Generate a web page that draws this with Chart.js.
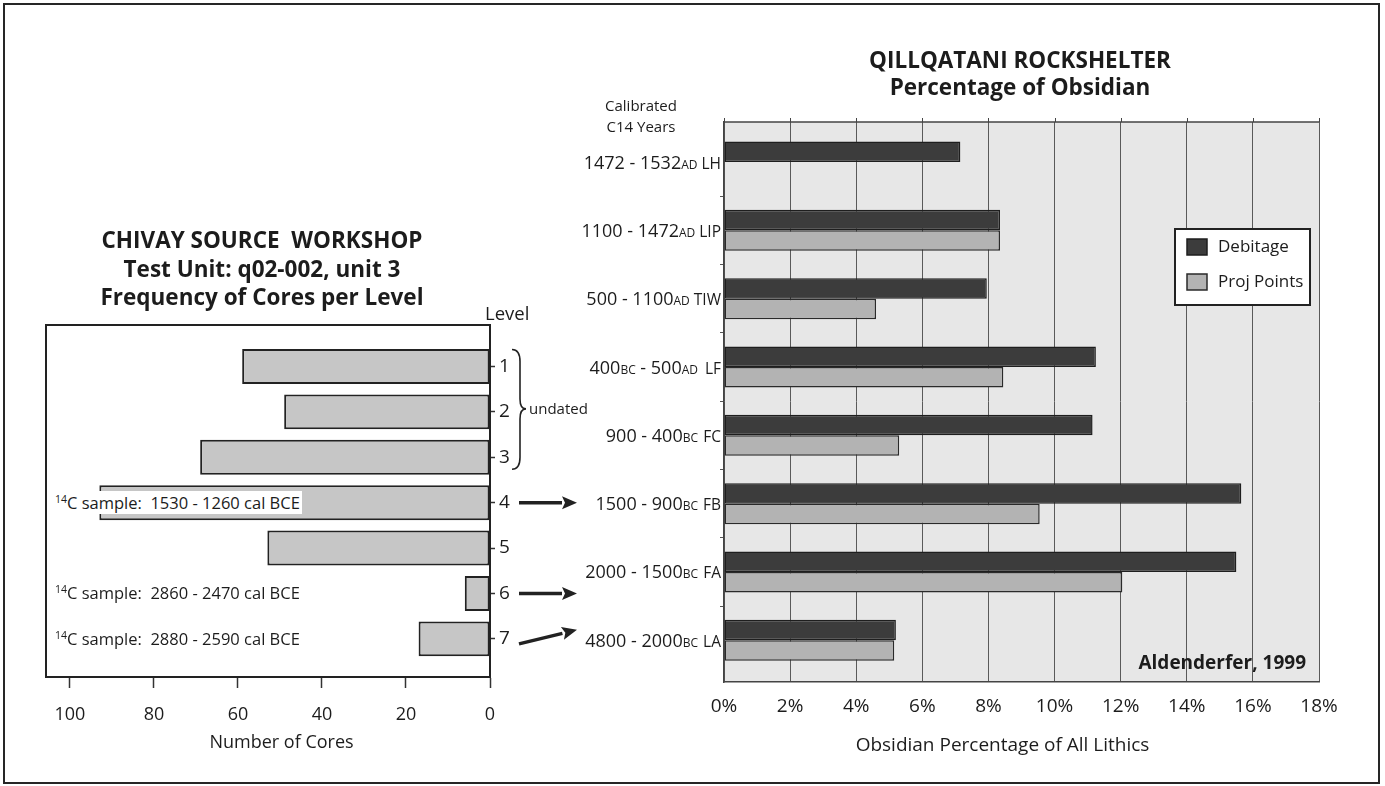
<!DOCTYPE html>
<html><head><meta charset="utf-8">
<title>Chivay Source Workshop / Qillqatani Rockshelter</title>
<script src="https://cdn.jsdelivr.net/npm/chart.js@4.4.1/dist/chart.umd.min.js"></script>
<style>
html,body{margin:0;padding:0;background:#fff;}
#page{position:relative;width:1385px;height:786px;overflow:hidden;font-family:"Open Sans",sans-serif;color:#1c1c1c;background:#fff;}
#frame{position:absolute;left:3px;top:3px;width:1373px;height:777px;border:2px solid #262626;}
canvas{position:absolute;left:0;top:0;}
.t{position:absolute;white-space:nowrap;z-index:5;}
.c{transform:translateX(-50%);text-align:center;}
.h{font-weight:700;font-size:22.5px;line-height:28.5px;}
.note{font-size:16.5px;line-height:22px;}
.note sup{font-size:10.5px;vertical-align:0;position:relative;top:-6px;}
.hl{background:#fff;padding-right:2px;}
</style></head>
<body><div id="page">
<div id="frame"></div>
<canvas id="cores" width="1385" height="786"></canvas>
<canvas id="obsidian" width="1385" height="786"></canvas>

<div class="t c h" style="left:262px;top:226px;">CHIVAY SOURCE&nbsp; WORKSHOP<br>Test Unit: q02-002, unit 3<br>Frequency of Cores per Level</div>
<div class="t c h" style="left:1020px;top:46px;line-height:27px;">QILLQATANI ROCKSHELTER<br>Percentage of Obsidian</div>
<div class="t c" style="left:641px;top:95px;font-size:15px;line-height:21px;">Calibrated<br>C14 Years</div>
<div class="t" style="left:485px;top:301px;font-size:18.5px;line-height:24px;">Level</div>
<div class="t" style="left:529px;top:397px;font-size:15px;line-height:22px;">undated</div>
<div class="t note" style="left:55px;top:492px;"><span class="hl"><sup>14</sup>C sample:&nbsp; 1530 - 1260 cal BCE</span></div>
<div class="t note" style="left:55px;top:582px;"><sup>14</sup>C sample:&nbsp; 2860 - 2470 cal BCE</div>
<div class="t note" style="left:55px;top:628px;"><sup>14</sup>C sample:&nbsp; 2880 - 2590 cal BCE</div>
<div class="t" style="right:79px;top:650px;font-size:19px;line-height:24px;font-weight:700;">Aldenderfer, 1999</div>
</div>
<script>
// ---- data: Chivay cores per level ----
const levels = [1, 2, 3, 4, 5, 6, 7];
const coresPerLevel = [59, 49, 69, 93, 53, 6, 17];
const coreTicks = [0, 20, 40, 60, 80, 100];
const arrowLevels = [4, 6, 7];

// ---- data: Qillqatani obsidian percentages ----
const periodYears = ['1472 - 1532AD', '1100 - 1472AD', '500 - 1100AD', '400BC - 500AD', '900 - 400BC', '1500 - 900BC', '2000 - 1500BC', '4800 - 2000BC'];
const periodCodes = ['LH', 'LIP', 'TIW', 'LF', 'FC', 'FB', 'FA', 'LA'];
const seriesNames = ['Debitage', 'Proj Points'];
const debitagePct = [7.15, 8.35, 7.95, 11.25, 11.15, 15.65, 15.5, 5.2];
const projPointsPct = [null, 8.35, 4.6, 8.45, 5.3, 9.55, 12.05, 5.15];
const pctTicks = [0, 2, 4, 6, 8, 10, 12, 14, 16, 18];

Chart.defaults.font.family = '"Open Sans", sans-serif';
Chart.defaults.color = '#1c1c1c';
const INK = '#222';
const FONT = '"Open Sans", sans-serif';

function drawArrow(ctx, x1, y1, x2, y2) {
  const ang = Math.atan2(y2 - y1, x2 - x1);
  const hl = 15, hw = 6.5;
  const bx = x2 - hl * Math.cos(ang), by = y2 - hl * Math.sin(ang);
  ctx.lineWidth = 3.5;
  ctx.beginPath(); ctx.moveTo(x1, y1); ctx.lineTo(bx, by); ctx.stroke();
  ctx.beginPath();
  ctx.moveTo(x2, y2);
  ctx.lineTo(bx + hw * Math.sin(ang), by - hw * Math.cos(ang));
  ctx.lineTo(bx + 3 * Math.cos(ang), by + 3 * Math.sin(ang));
  ctx.lineTo(bx - hw * Math.sin(ang), by + hw * Math.cos(ang));
  ctx.closePath(); ctx.fill();
}

const coresDecor = {
  id: 'coresDecor',
  afterDraw(chart) {
    const { ctx, chartArea: a, scales: { y } } = chart;
    ctx.save();
    ctx.strokeStyle = INK; ctx.fillStyle = INK; ctx.lineWidth = 2;
    ctx.strokeRect(a.left, a.top, a.right - a.left, a.bottom - a.top);
    // brace for undated levels 1-3
    const top = y.getPixelForValue(1) - 17, mid = y.getPixelForValue(2) - 3, bot = y.getPixelForValue(3) + 12;
    const x0 = a.right + 22, x1 = a.right + 30, x2 = a.right + 36;
    ctx.lineWidth = 1.6;
    ctx.beginPath();
    ctx.moveTo(x0, top);
    ctx.quadraticCurveTo(x1, top, x1, top + 12);
    ctx.lineTo(x1, mid - 10);
    ctx.quadraticCurveTo(x1, mid, x2, mid);
    ctx.quadraticCurveTo(x1, mid, x1, mid + 10);
    ctx.lineTo(x1, bot - 12);
    ctx.quadraticCurveTo(x1, bot, x0, bot);
    ctx.stroke();
    // arrows to the rockshelter chart
    arrowLevels.forEach(l => {
      const yy = y.getPixelForValue(l);
      if (l === 7) drawArrow(ctx, a.right + 29, yy + 5, a.right + 87, yy - 9);
      else drawArrow(ctx, a.right + 29, yy, a.right + 87, yy);
    });
    ctx.restore();
  }
};

new Chart(document.getElementById('cores'), {
  type: 'bar',
  data: {
    datasets: [{
      label: 'Number of Cores',
      data: levels.map((l, i) => ({ x: coresPerLevel[i], y: l })),
      backgroundColor: '#c6c6c6', borderColor: INK, borderWidth: 2, borderSkipped: false,
      categoryPercentage: 1, barPercentage: 0.77
    }]
  },
  options: {
    indexAxis: 'y', responsive: false, animation: false, events: [],
    layout: { padding: { left: 46, top: 325, right: 1385 - 490 - 40, bottom: 0 } },
    plugins: { legend: { display: false }, tooltip: { enabled: false } },
    scales: {
      x: {
        type: 'linear', reverse: true, min: 0, max: 105.7,
        afterBuildTicks(s) { s.ticks = coreTicks.map(v => ({ value: v })); },
        afterFit(s) { s.height = 786 - 677; },
        ticks: { font: { size: 18 }, color: '#1c1c1c', padding: 16, maxRotation: 0 },
        grid: { drawOnChartArea: false, tickLength: 11, tickColor: '#333', tickWidth: 1.5 },
        border: { color: INK, width: 2 },
        title: { display: true, text: '\u2003\u2002Number of Cores', font: { size: 18 }, color: '#1c1c1c', padding: { top: 0, bottom: 32 } }
      },
      y: {
        type: 'linear', position: 'right', reverse: true, min: 0.086, max: 7.84, offset: false,
        afterBuildTicks(s) { s.ticks = levels.map(v => ({ value: v })); },
        afterFit(s) { s.width = 40; },
        ticks: { font: { size: 19 }, color: '#1c1c1c', padding: 4 },
        grid: { drawOnChartArea: false, offset: false, tickLength: 5, tickColor: '#333', tickWidth: 1.5 },
        border: { color: INK, width: 2 }
      }
    }
  },
  plugins: [coresDecor]
});

const obsDecor = {
  id: 'obsDecor',
  beforeDraw(chart) {
    const { ctx, chartArea: a } = chart;
    ctx.save();
    ctx.fillStyle = '#e7e7e7';
    ctx.fillRect(a.left, a.top, a.right - a.left, a.bottom - a.top);
    ctx.restore();
  },
  afterDraw(chart) {
    const { ctx, chartArea: a, scales: { x, y } } = chart;
    ctx.save();
    ctx.strokeStyle = '#444'; ctx.lineWidth = 1.5;
    ctx.beginPath(); ctx.moveTo(a.left, a.top); ctx.lineTo(a.right, a.top); ctx.stroke();
    ctx.lineWidth = 1;
    pctTicks.forEach(v => {
      const px = Math.round(x.getPixelForValue(v)) + 0.5;
      ctx.beginPath(); ctx.moveTo(px, a.top - 4); ctx.lineTo(px, a.top); ctx.stroke();
    });
    // category labels with small-caps era, period code right-aligned at the axis
    ctx.fillStyle = '#1c1c1c';
    ctx.textBaseline = 'alphabetic';
    periodYears.forEach((lab, i) => {
      const base = y.getPixelForValue(i) + 6.5;
      ctx.font = '15.5px ' + FONT;
      ctx.textAlign = 'right';
      ctx.fillText(periodCodes[i], a.left - 3, base);
      const codeLeft = a.left - 3 - ctx.measureText(periodCodes[i]).width;
      const parts = lab.split(/(AD|BC)/).filter(Boolean);
      const fonts = parts.map(p => (p === 'AD' || p === 'BC') ? '12px ' + FONT : '18px ' + FONT);
      let total = 0;
      const widths = parts.map((p, k) => { ctx.font = fonts[k]; const w = ctx.measureText(p).width; total += w; return w; });
      let cx = Math.min(a.left - 26, codeLeft - 4) - total;
      ctx.textAlign = 'left';
      parts.forEach((p, k) => { ctx.font = fonts[k]; ctx.fillText(p, cx, base); cx += widths[k]; });
    });
    // legend box
    const ds = chart.data.datasets;
    const bx = a.right - 144, by = a.top + 107, bw = 135, bh = 76;
    ctx.fillStyle = '#fff';
    ctx.fillRect(bx, by, bw, bh);
    ctx.strokeStyle = INK; ctx.lineWidth = 2;
    ctx.strokeRect(bx, by, bw, bh);
    ds.forEach((d, k) => {
      const sy = by + 10 + k * 35;
      ctx.fillStyle = d.backgroundColor;
      ctx.fillRect(bx + 12, sy, 20, 16);
      ctx.strokeStyle = d.borderColor; ctx.lineWidth = 1.5;
      ctx.strokeRect(bx + 12, sy, 20, 16);
      ctx.fillStyle = '#1c1c1c';
      ctx.font = '17px ' + FONT;
      ctx.textAlign = 'left';
      ctx.textBaseline = 'middle';
      ctx.fillText(d.label, bx + 43, sy + 8);
    });
    ctx.restore();
  }
};

new Chart(document.getElementById('obsidian'), {
  type: 'bar',
  data: {
    datasets: [
      { label: seriesNames[0], data: debitagePct.map((v, i) => ({ x: v, y: i })),
        backgroundColor: '#3c3c3c', borderColor: '#1e1e1e', borderWidth: 1.5, borderSkipped: false,
        categoryPercentage: 0.6, barPercentage: 1 },
      { label: seriesNames[1], data: projPointsPct.map((v, i) => ({ x: v, y: i })),
        backgroundColor: '#b3b3b3', borderColor: '#2a2a2a', borderWidth: 1.5, borderSkipped: false,
        categoryPercentage: 0.6, barPercentage: 1 }
    ]
  },
  options: {
    indexAxis: 'y', responsive: false, animation: false, events: [],
    layout: { padding: { left: 574, top: 122, right: 66, bottom: 0 } },
    plugins: { legend: { display: false }, tooltip: { enabled: false } },
    scales: {
      x: {
        type: 'linear', min: 0, max: 18,
        afterBuildTicks(s) { s.ticks = pctTicks.map(v => ({ value: v })); },
        afterFit(s) { s.height = 786 - 682; },
        ticks: { callback: v => v + '%', font: { size: 19 }, color: '#1c1c1c', padding: 13, maxRotation: 0 },
        grid: { color: '#5a5a5a', lineWidth: 1, drawTicks: false },
        border: { color: '#444', width: 1.5 },
        title: { display: true, text: 'Obsidian Percentage of All Lithics\u2003\u2003', font: { size: 19 }, color: '#1c1c1c', padding: { top: 0, bottom: 29 } }
      },
      y: {
        type: 'linear', reverse: true, min: -0.586, max: 7.61, offset: false,
        afterBuildTicks(s) { s.ticks = periodCodes.slice(1).map((c, i) => ({ value: i + 0.5 })); },
        afterFit(s) { s.width = 150; },
        ticks: { callback: () => '', padding: 0 },
        grid: { drawOnChartArea: false, offset: false, tickLength: 4, color: '#555' },
        border: { color: '#444', width: 1.5 }
      }
    }
  },
  plugins: [obsDecor]
});
</script>
</body></html>
